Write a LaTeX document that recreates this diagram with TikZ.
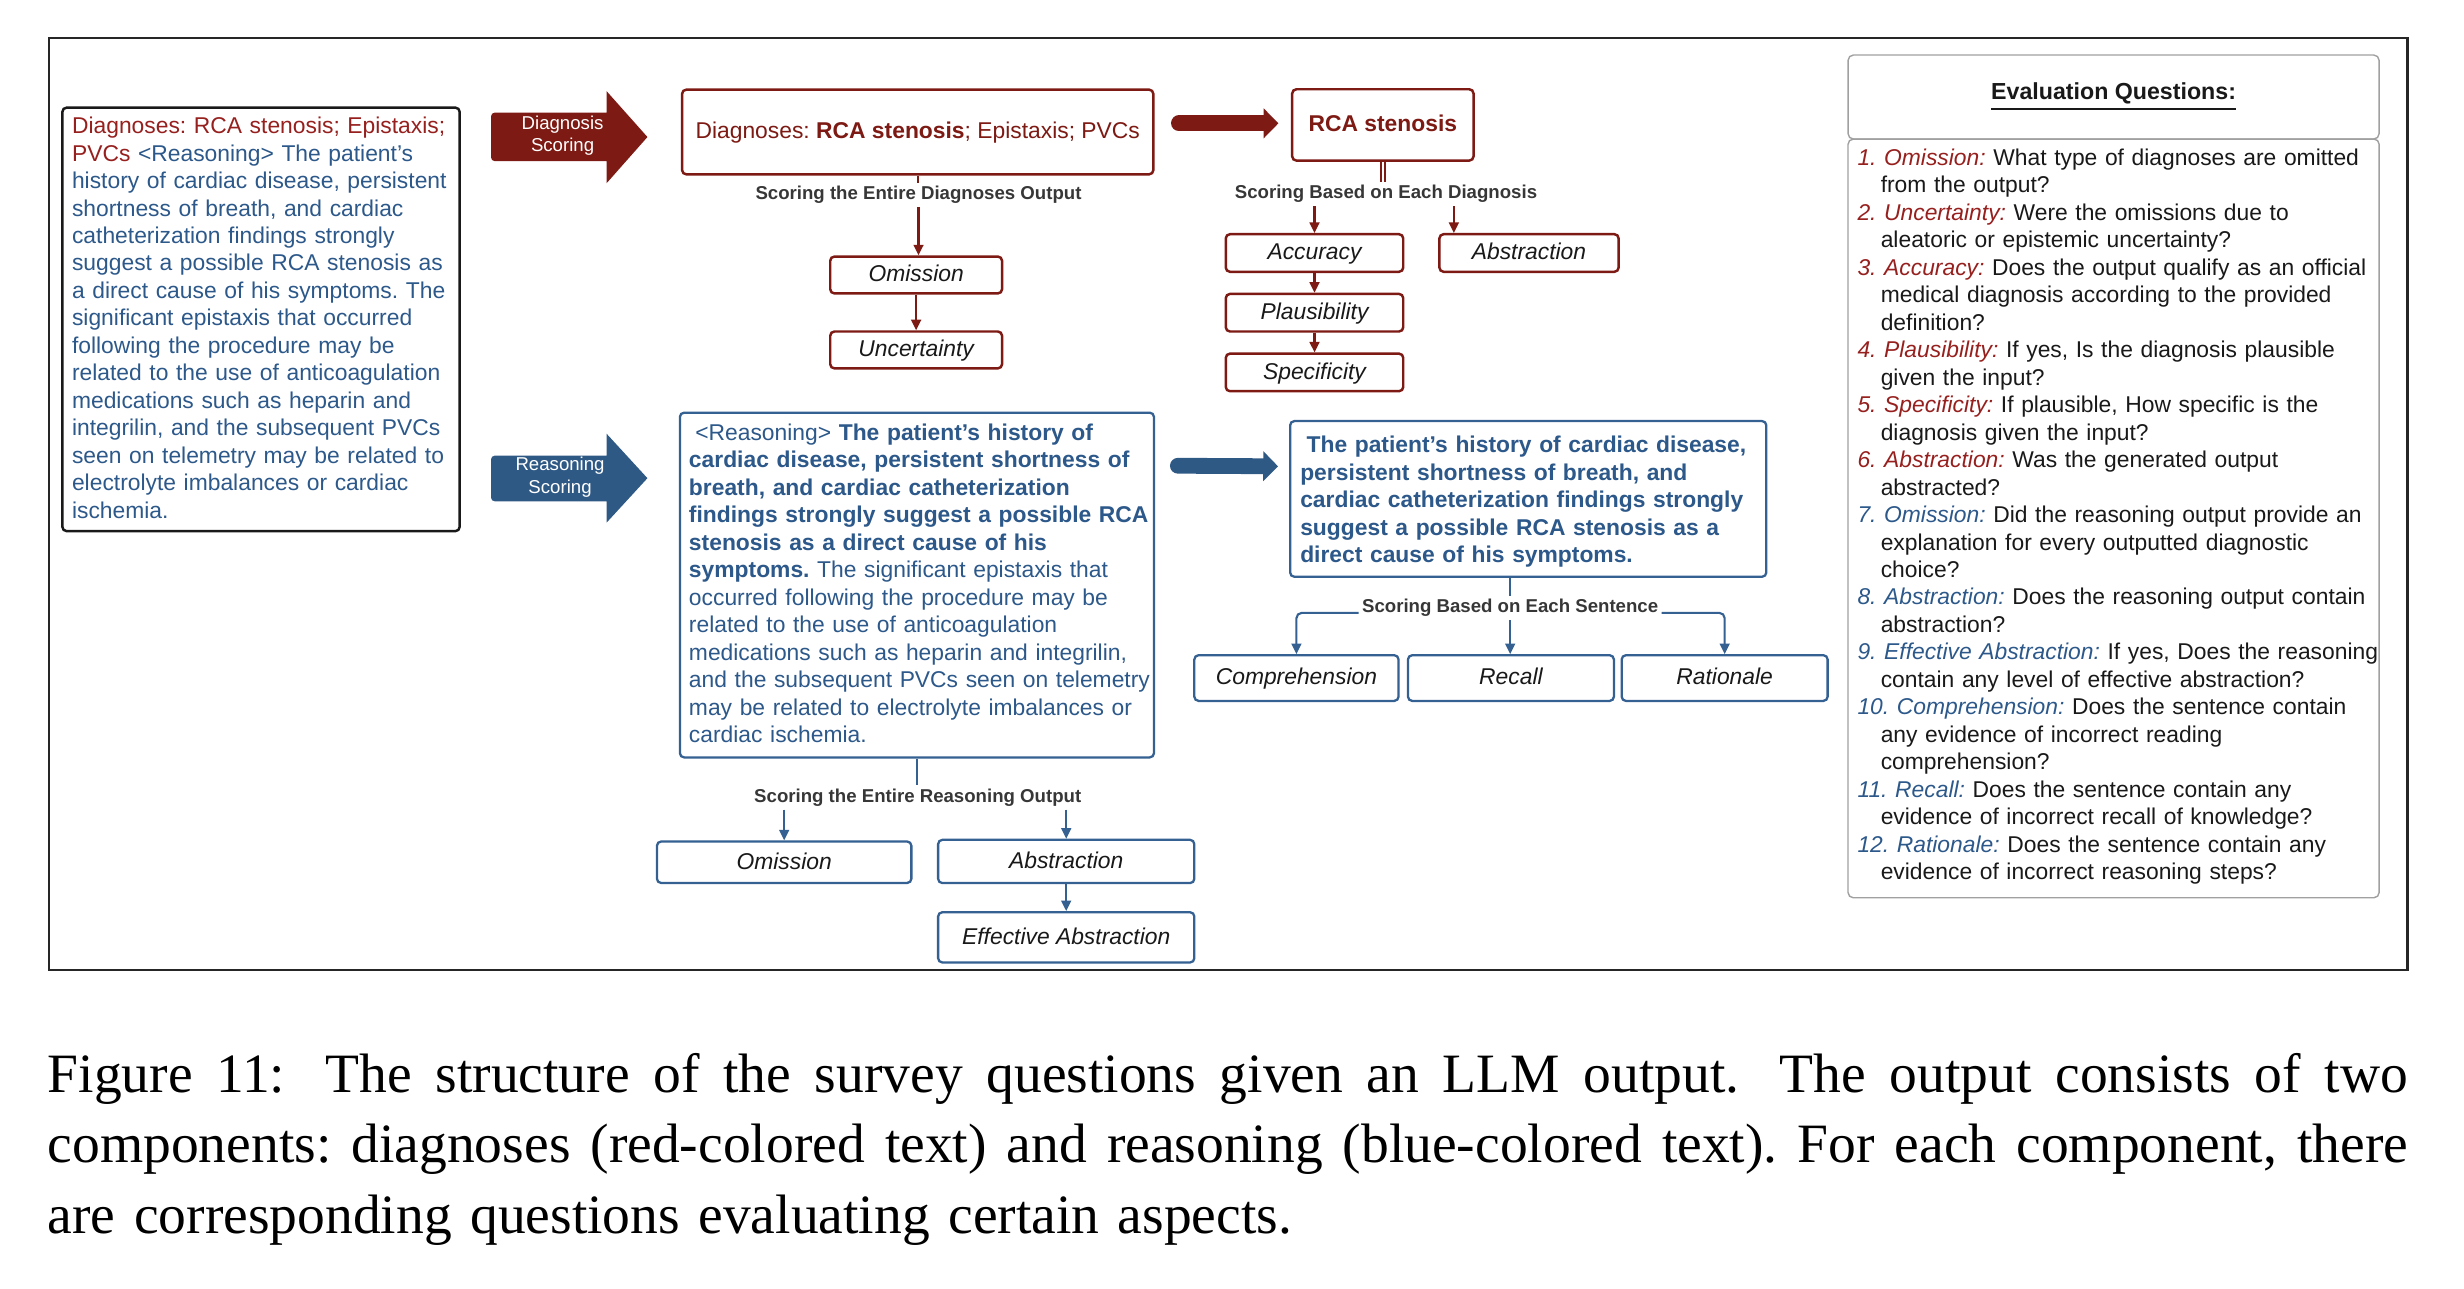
\documentclass[tikz,border=0pt]{standalone}
\usepackage{fontspec}
\setmainfont{Liberation Sans}
\newfontfamily\capfont{Liberation Serif}
\usetikzlibrary{arrows.meta,calc}
\definecolor{dred}{RGB}{125,26,20}
\definecolor{tred}{RGB}{150,32,30}
\definecolor{dblue}{RGB}{47,89,133}
\definecolor{tblue}{RGB}{44,88,138}
\definecolor{bblue}{RGB}{52,96,146}
\definecolor{lgray}{RGB}{55,55,55}
\definecolor{qgray}{RGB}{160,160,160}
\definecolor{ink}{RGB}{25,25,25}
\newcommand\fbody{\fontsize{6.5pt}{7.82pt}\selectfont}
\newcommand\flab{\fontsize{5.3pt}{6.4pt}\selectfont}
\newcommand\farr{\fontsize{5.3pt}{6.5pt}\selectfont}
\newcommand\qr[1]{{\color{tred}\itshape #1}}
\newcommand\qb[1]{{\color{tblue}\itshape #1}}
\newcommand\qi{\hspace*{6.62pt}}
\newcommand\capline[1]{\makebox[671.6pt][s]{\spaceskip=0.25em plus 1em minus 0.06em\relax #1}}
\begin{document}
\frenchspacing
\begin{tikzpicture}[x=0.015714cm, y=-0.015714cm,
  rbx/.style={draw=dred, line width=0.7pt, rounded corners=1.2pt, inner sep=0pt, fill=white,
    text height=3.9pt, text depth=0pt, font=\fbody\itshape, text=ink},
  bbx/.style={draw=bblue, line width=0.65pt, rounded corners=1.2pt, inner sep=0pt, fill=white,
    text height=3.9pt, text depth=0pt, font=\fbody\itshape, text=ink},
  lab/.style={font=\flab\bfseries, text=lgray, inner sep=0.8pt, text height=3.8pt, text depth=1.1pt},
  rline/.style={draw=dred, line width=0.6pt},
  rarr/.style={draw=dred, line width=0.6pt, -{Triangle[length=3pt,width=2.8pt]}},
  bline/.style={draw=bblue, line width=0.6pt},
  barr/.style={draw=bblue, line width=0.6pt, -{Triangle[length=3pt,width=2.8pt]}},
  fatred/.style={draw=dred, line width=4.5pt, line cap=round, -{Triangle[length=4.2pt,width=8.3pt]}},
  fatblue/.style={draw=dblue, line width=4.5pt, line cap=round, -{Triangle[length=4.2pt,width=8.3pt]}},
  txt/.style={anchor=base west, inner sep=0pt, align=left, font=\fbody},
  arrlab/.style={font=\farr, text=white, align=center, inner sep=0pt}
]
\useasboundingbox (0,0) rectangle (1568,820);

% outer frame
\draw[line width=0.6pt, black!85] (31,24) rectangle (1532,617);

% left input box
\draw[ink, line width=0.7pt, rounded corners=1.2pt] (39.7,68.5) rectangle (292.5,338);
\node[txt, text width=118pt, text=tblue] (lbt) at (45.4,85) {%
{\color{tred}Diagnoses: RCA stenosis; Epistaxis;}\\
{\color{tred}PVCs} <Reasoning> The patient's\\
history of cardiac disease, persistent\\
shortness of breath, and cardiac\\
catheterization findings strongly\\
suggest a possible RCA stenosis as\\
a direct cause of his symptoms. The\\
significant epistaxis that occurred\\
following the procedure may be\\
related to the use of anticoagulation\\
medications such as heparin and\\
integrilin, and the subsequent PVCs\\
seen on telemetry may be related to\\
electrolyte imbalances or cardiac\\
ischemia.};

% block arrows
\fill[dred] (386,71.7) [rounded corners=1pt] -- (312.5,71.7) -- (312.5,102.5) [sharp corners] -- (386,102.5) -- (386,116.6) -- (412,87.2) -- (386,58) -- cycle;
\node[arrlab] (dsc) at (358,86.4) {Diagnosis\\Scoring};
\fill[dblue] (386,290) [rounded corners=1pt] -- (312.5,290) -- (312.5,319) [sharp corners] -- (386,319) -- (386,332.6) -- (412,304.3) -- (386,276) -- cycle;
\node[arrlab] (rsc) at (356.4,303.5) {Reasoning\\Scoring};

% ---- diagnosis branch ----
\node[rbx, minimum width=134.1pt, minimum height=24.1pt, font=\fbody, text=dred] (diag) at (584,84) {Diagnoses: \textbf{RCA stenosis}; Epistaxis; PVCs};
\node[rbx, minimum width=51.6pt, minimum height=20.3pt, font=\fbody\bfseries, text=dred] (rca) at (880,79.5) {RCA stenosis};
\node[lab] (l1) at (584.5,124) {Scoring the Entire Diagnoses Output};
\node[rbx, minimum width=48.9pt, minimum height=10.5pt] (om1) at (583,175) {Omission};
\node[rbx, minimum width=48.9pt, minimum height=10.5pt] (unc) at (583,222.7) {Uncertainty};
\node[lab] (l2) at (882,123.5) {Scoring Based on Each Diagnosis};
\node[rbx, minimum width=50.5pt, minimum height=10.7pt] (acc) at (836.5,161) {Accuracy};
\node[rbx, minimum width=51pt, minimum height=10.7pt] (abs1) at (973,161) {Abstraction};
\node[rbx, minimum width=50.5pt, minimum height=10.7pt] (pla) at (836.5,199) {Plausibility};
\node[rbx, minimum width=50.5pt, minimum height=10.7pt] (spe) at (836.5,237) {Specificity};

\draw[rline] (diag.south) -- (diag.south |- l1.north);
\draw[rarr] (l1.south) -- (l1.south |- om1.north);
\draw[rarr] (om1.south) -- (unc.north);
\draw[fatred] ($(diag.east |- rca.west)+(15.5,-1)$) -- ($(rca.west)+(-8,-1)$);
\draw[rline] ($(rca.south)+(-1.2,0)$) -- ($(rca.south |- l2.north)+(-1.2,0)$);
\draw[rline] ($(rca.south)+(1.2,0)$) -- ($(rca.south |- l2.north)+(1.2,0)$);
\coordinate (abk) at ($(abs1.north west)+(10,0)$);
\draw[rarr] (acc.north |- l2.south) -- (acc.north);
\draw[rarr] (abk |- l2.south) -- (abk);
\draw[rarr] (acc.south) -- (pla.north);
\draw[rarr] (pla.south) -- (spe.north);

% ---- reasoning branch ----
\node[bbx, minimum width=134.9pt, minimum height=98.1pt] (rb) at (583.5,372.3) {};
\node[txt, text width=136pt, text=tblue] (rbt) at (438,280.2) {%
\hspace*{1.8pt}<Reasoning> \textbf{The patient's history of}\\
\textbf{cardiac disease, persistent shortness of}\\
\textbf{breath, and cardiac catheterization}\\
\textbf{findings strongly suggest a possible RCA}\\
\textbf{stenosis as a direct cause of his}\\
\textbf{symptoms.} The significant epistaxis that\\
occurred following the procedure may be\\
related to the use of anticoagulation\\
medications such as heparin and integrilin,\\
and the subsequent PVCs seen on telemetry\\
may be related to electrolyte imbalances or\\
cardiac ischemia.};
\node[bbx, minimum width=135.5pt, minimum height=44.3pt] (bb) at (972.5,317.5) {};
\node[txt, text width=136pt, text=tblue, font=\fbody\bfseries] (bbt) at (827,288) {%
\hspace*{1.8pt}The patient's history of cardiac disease,\\
persistent shortness of breath, and\\
cardiac catheterization findings strongly\\
suggest a possible RCA stenosis as a\\
direct cause of his symptoms.};
\node[lab] (l3) at (961,387) {Scoring Based on Each Sentence};
\node[bbx, minimum width=58.1pt, minimum height=13pt] (comp) at (825,431.5) {Comprehension};
\node[bbx, minimum width=58.6pt, minimum height=13pt] (rec) at (961.5,431.5) {Recall};
\node[bbx, minimum width=58.6pt, minimum height=13pt] (rat) at (1097.5,431.5) {Rationale};
\node[lab] (l4) at (584,507.5) {Scoring the Entire Reasoning Output};
\node[bbx, minimum width=72.4pt, minimum height=11.8pt] (om2) at (499,548.7) {Omission};
\node[bbx, minimum width=72.9pt, minimum height=12.3pt] (abs2) at (678.5,548.2) {Abstraction};
\node[bbx, minimum width=72.9pt, minimum height=14.3pt] (eff) at (678.5,596.5) {Effective Abstraction};

\draw[fatblue] ($(rb.north east)+(14.5,34.5)$) -- ($(bb.north west)+(-7,29.5)$);
\draw[bline] (l3.north |- bb.south) -- (l3.north);
\draw[barr, rounded corners=1.5pt] (l3.base west) -| (comp.north);
\draw[barr, rounded corners=1.5pt] (l3.base east) -| (rat.north);
\draw[barr] (l3.south) -- (l3.south |- rec.north);
\draw[bline] (rb.south) -- (rb.south |- l4.north);
\draw[barr] (om2.north |- l4.south) -- (om2.north);
\draw[barr] (abs2.north |- l4.south) -- (abs2.north);
\draw[barr] (abs2.south) -- (eff.north);

% ---- evaluation questions ----
\node[draw=qgray, line width=0.4pt, rounded corners=1.5pt, minimum width=151.1pt, minimum height=23.9pt, inner sep=0pt,
  font=\fontsize{6.6pt}{8pt}\selectfont\bfseries, text=ink] (hdr) at (1345,61.75) {\underline{Evaluation Questions:}};
\draw[qgray, line width=0.4pt, rounded corners=1.5pt] (1176,88.5) rectangle (1514,571.3);
\node[txt, text width=152pt, text=ink] (qt) at (1181.6,105.2) {%
\qr{1. Omission:} What type of diagnoses are omitted\\
\qi from the output?\\
\qr{2. Uncertainty:} Were the omissions due to\\
\qi aleatoric or epistemic uncertainty?\\
\qr{3. Accuracy:} Does the output qualify as an official\\
\qi medical diagnosis according to the provided\\
\qi definition?\\
\qr{4. Plausibility:} If yes, Is the diagnosis plausible\\
\qi given the input?\\
\qr{5. Specificity:} If plausible, How specific is the\\
\qi diagnosis given the input?\\
\qr{6. Abstraction:} Was the generated output\\
\qi abstracted?\\
\qb{7. Omission:} Did the reasoning output provide an\\
\qi explanation for every outputted diagnostic\\
\qi choice?\\
\qb{8. Abstraction:} Does the reasoning output contain\\
\qi abstraction?\\
\qb{9. Effective Abstraction:} If yes, Does the reasoning\\
\qi contain any level of effective abstraction?\\
\qb{10. Comprehension:} Does the sentence contain\\
\qi any evidence of incorrect reading\\
\qi comprehension?\\
\qb{11. Recall:} Does the sentence contain any\\
\qi evidence of incorrect recall of knowledge?\\
\qb{12. Rationale:} Does the sentence contain any\\
\qi evidence of incorrect reasoning steps?};

% ---- caption ----
\node[anchor=base west, inner sep=0pt, text width=690pt, align=left,
  font=\capfont\fontsize{15.8pt}{20.1pt}\selectfont] (cap) at (30,695) {%
\capline{Figure 11:\hspace{0.3em} The structure of the survey questions given an LLM output.\hspace{0.3em} The output consists of two}\\
\capline{components: diagnoses (red-colored text) and reasoning (blue-colored text). For each component, there}\\
are corresponding questions evaluating certain aspects.};
\end{tikzpicture}
\end{document}
